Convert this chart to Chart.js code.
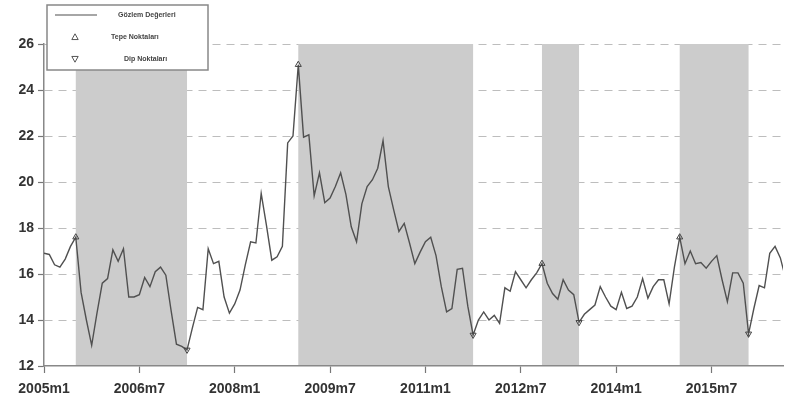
<!DOCTYPE html>
<html><head><meta charset="utf-8">
<script src="https://cdn.jsdelivr.net/npm/chart.js@4.4.1/dist/chart.umd.min.js"></script>
<style>html,body{margin:0;padding:0;background:#fff;overflow:hidden}#wrap{position:relative;width:788px;height:399px}</style>
</head><body><div id="wrap"><canvas id="c" width="788" height="399"></canvas></div>
<script>
// Monthly observations starting 2005m1 (index 0)
const values = [
16.9,16.85,16.4,16.3,16.65,17.2,17.6,15.2,14.0,12.9,
14.3,15.6,15.8,17.05,16.55,17.1,15.0,15.0,15.1,15.85,
15.45,16.1,16.3,15.95,14.4,12.95,12.85,12.7,13.65,14.55,
14.45,17.1,16.45,16.55,15.0,14.3,14.7,15.3,16.4,17.4,
17.35,19.5,18.1,16.6,16.75,17.2,21.7,22.0,25.1,21.95,
22.05,19.4,20.4,19.1,19.3,19.8,20.4,19.45,18.05,17.4,
19.05,19.8,20.1,20.6,21.8,19.8,18.8,17.85,18.2,17.35,
16.45,16.95,17.4,17.6,16.8,15.45,14.35,14.5,16.2,16.25,
14.6,13.35,14.0,14.35,14.0,14.2,13.85,15.4,15.25,16.1,
15.75,15.4,15.75,16.05,16.45,15.6,15.15,14.9,15.75,15.3,
15.1,13.9,14.25,14.45,14.65,15.45,15.0,14.6,14.45,15.2,
14.5,14.6,15.0,15.8,14.95,15.45,15.75,15.75,14.7,16.3,
17.6,16.45,17.0,16.45,16.5,16.25,16.55,16.8,15.75,14.8,
16.05,16.05,15.6,13.4,14.5,15.5,15.4,16.9,17.2,16.7,
15.8
];
const tickPositions = [0,18,36,54,72,90,108,126];
const tickLabels = ['2005m1','2006m7','2008m1','2009m7','2011m1','2012m7','2014m1','2015m7'];
const yTicks = [12,14,16,18,20,22,24,26];
const peaks = [6,48,94,120];
const troughs = [27,81,101,133];
const seriesNames = ['Gözlem Değerleri','Tepe Noktaları','Dip Noktaları'];

const shadePlugin = {
  id:'shade',
  beforeDatasetsDraw(chart){
    const {ctx, scales:{x,y}} = chart;
    ctx.save();
    ctx.fillStyle = '#cccccc';
    peaks.forEach((p,k)=>{
      const x0 = x.getPixelForValue(p), x1 = x.getPixelForValue(troughs[k]);
      const y0 = y.getPixelForValue(26), y1 = y.getPixelForValue(12);
      ctx.fillRect(x0, y0, x1-x0, y1-y0-1);
    });
    ctx.restore();
  }
};

function tri(ctx, cx, cy, down){
  const r = 3.2;
  ctx.beginPath();
  if(!down){ ctx.moveTo(cx, cy-r); ctx.lineTo(cx+r, cy+r*0.8); ctx.lineTo(cx-r, cy+r*0.8); }
  else { ctx.moveTo(cx, cy+r); ctx.lineTo(cx+r, cy-r*0.8); ctx.lineTo(cx-r, cy-r*0.8); }
  ctx.closePath(); ctx.stroke();
}

const legendPlugin = {
  id:'boxLegend',
  afterDraw(chart){
    const ctx = chart.ctx;
    ctx.save();
    ctx.fillStyle = '#fff';
    ctx.fillRect(47,5,161,65);
    ctx.strokeStyle = '#888'; ctx.lineWidth = 1.5;
    ctx.strokeRect(47,5,161,65);
    ctx.beginPath(); ctx.moveTo(55,15); ctx.lineTo(97,15); ctx.stroke();
    ctx.strokeStyle = '#555'; ctx.lineWidth = 1;
    tri(ctx,75,37,false);
    tri(ctx,75,59,true);
    ctx.fillStyle = '#444';
    ctx.font = 'bold 7px "Liberation Sans", Arial, sans-serif';
    ctx.textBaseline = 'middle'; ctx.textAlign = 'left';
    ctx.fillText(seriesNames[0],118,15);
    ctx.fillText(seriesNames[1],111,37);
    ctx.fillText(seriesNames[2],124,59);
    ctx.restore();
  }
};

const tickFont = {family:'"Liberation Sans", Arial, sans-serif', size:14, weight:'bold'};

new Chart(document.getElementById('c'), {
  type:'line',
  data:{
    datasets:[
      {label:seriesNames[0], data: values.map((v,i)=>({x:i,y:v})), borderColor:'#505050', borderWidth:1.4, pointRadius:0, tension:0, fill:false, order:2},
      {label:seriesNames[1], data: peaks.map(i=>({x:i,y:values[i]})), showLine:false, pointStyle:'triangle', pointRadius:3.5, borderColor:'#444', borderWidth:1, backgroundColor:'rgba(0,0,0,0)', order:1},
      {label:seriesNames[2], data: troughs.map(i=>({x:i,y:values[i]})), showLine:false, pointStyle:'triangle', rotation:180, pointRadius:3.5, borderColor:'#444', borderWidth:1, backgroundColor:'rgba(0,0,0,0)', order:1}
    ]
  },
  options:{
    responsive:false, animation:false, devicePixelRatio:1,
    layout:{padding:{top:44,left:0,right:0,bottom:0}},
    plugins:{legend:{display:false}, tooltip:{enabled:false}},
    scales:{
      x:{type:'linear', min:0, max:139.5,
        afterBuildTicks:s=>{s.ticks = tickPositions.map(v=>({value:v}));},
        afterFit:s=>{s.height = 33;},
        grid:{drawOnChartArea:false, tickLength:7, tickColor:'#777', tickWidth:1.2},
        border:{color:'#888', width:1.5},
        ticks:{callback:(v,i)=>tickLabels[i], maxRotation:0, autoSkip:false, color:'#333', font:tickFont, padding:8}
      },
      y:{min:12, max:26,
        afterBuildTicks:s=>{s.ticks = yTicks.map(v=>({value:v}));},
        afterFit:s=>{s.width = 44;},
        grid:{color:c=> (c.tick && c.tick.value===12) ? 'rgba(0,0,0,0)' : '#bdbdbd', lineWidth:1, tickColor:'#777', tickLength:6, tickWidth:1.2},
        border:{display:true, color:'#888', width:1.5, dash:[8,6]},
        ticks:{color:'#333', font:tickFont, padding:4}
      }
    }
  },
  plugins:[shadePlugin, legendPlugin]
});
</script></body></html>
